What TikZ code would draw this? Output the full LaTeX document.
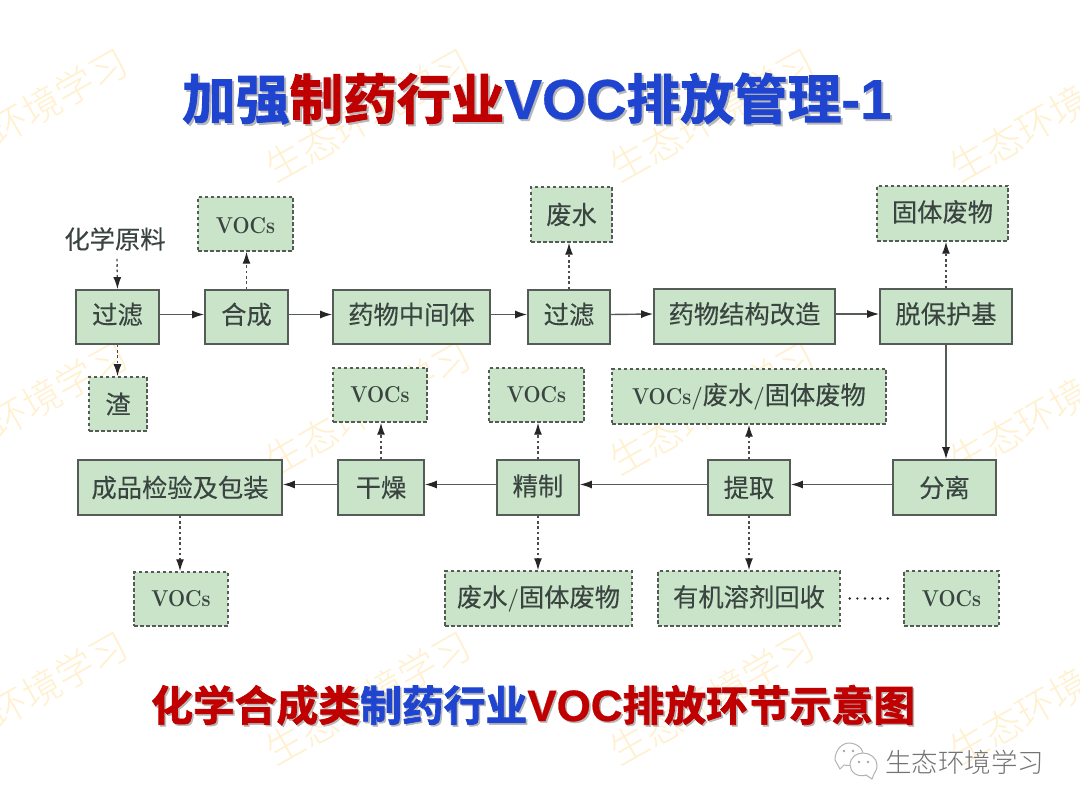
\documentclass[tikz,border=0pt]{standalone}
\usepackage{fontspec}
\usetikzlibrary{arrows.meta,calc}
\newfontfamily\cjk{Noto Sans CJK SC}
\newfontfamily\cjkthin{Noto Sans CJK SC Light}
\newfontfamily\cjkb{Noto Sans CJK SC Bold}[FakeBold=1.7]
\newfontfamily\latb{Liberation Sans Bold}[FakeBold=0.6,Scale=1.05]
\newfontfamily\cjkl{Noto Sans CJK SC}[FakeBold=0.2]
\newfontfamily\lmv{Latin Modern Roman}[FakeStretch=0.88]
\definecolor{boxgreen}{HTML}{C9E4C8}
\definecolor{boxline}{HTML}{555C58}
\definecolor{tblue}{HTML}{1F45D0}
\definecolor{tred}{HTML}{C00000}
\definecolor{wmark}{HTML}{FFF1CF}
\definecolor{txt}{HTML}{3A4440}
\newcommand{\shd}[2]{\leavevmode\rlap{\kern#1\raisebox{-#1}{\color{black!28}#2}}}
\newcommand{\lmt}[1]{{\lmv\bfseries\fontsize{23}{26}\selectfont #1}}
\tikzset{
  x=1pt,y=-1pt,
  flow/.style={draw=boxline,fill=boxgreen,line width=1.7pt,inner sep=0pt,text=txt,font=\cjkl\fontsize{25.3}{26}\selectfont},
  drop/.style={draw=boxline,fill=boxgreen,line width=1.5pt,dash pattern=on 3.5pt off 2.5pt,inner sep=0pt,text=txt,font=\cjkl\fontsize{25.3}{26}\selectfont},
  voc/.style={font=\lmv\bfseries\fontsize{23}{26}\selectfont},
  lift/.style={text height=20pt,text depth=6pt},
  liftb/.style={text height=22pt,text depth=6pt},
  go/.style={draw=boxline,line width=1.4pt,-{Latex[length=12pt,width=8pt,color=black!85]}},
  side/.style={draw=black!70,line width=1.4pt,dash pattern=on 2.5pt off 2.8pt,-{Latex[length=12pt,width=8pt,color=black!85]}},
  wm/.style={text=wmark,rotate=29.5,font=\cjkthin\fontsize{38}{38}\selectfont,inner sep=0pt},
}
\newcommand{\bx}[7]{\node[#1,minimum width=#4-#3,minimum height=#6-#5] (#2) at ({(#3+#4)/2},{(#5+#6)/2}) {#7};}
\begin{document}
\begin{tikzpicture}
\useasboundingbox (0,0) rectangle (1080,810);
\fill[white] (0,0) rectangle (1080,810);
\begin{scope}
\clip (0,0) rectangle (1080,810);
\foreach \r/\ry in {a/115,b/408,c/698}{
  \foreach \c/\cx in {1/25,2/368,3/712,4/1052}{
    \node[wm] (wm\r\c) at (\cx,\ry) {生态环境学习};
  }
}
\end{scope}
% title
\node[inner sep=0pt,anchor=base west] (title) at (182,119) {\cjkb\fontsize{53.7}{54}\selectfont
  \shd{2pt}{加强制药行业{\latb VOC}排放管理{\latb -1}}\textcolor{tblue}{加强}\textcolor{tred}{制药行业}\textcolor{tblue}{{\latb VOC}排放管理{\latb -1}}};
\node[inner sep=0pt,anchor=base west] (subtitle) at (151,721) {\cjkb\fontsize{41.8}{42}\selectfont
  \shd{1.6pt}{化学合成类制药行业{\latb VOC}排放环节示意图}\textcolor{tred}{化学合成类}\textcolor{tblue}{制药行业}\textcolor{tred}{{\latb VOC}排放环节示意图}};
% top row
\bx{flow,lift}{f1}{76}{159}{290}{344}{过滤}
\bx{flow,lift}{he}{205}{288}{290}{344}{合成}
\bx{flow,lift}{zj}{333}{490}{290}{344}{药物中间体}
\bx{flow,lift}{f2}{528}{610}{290}{344}{过滤}
\bx{flow,lift}{gz}{654}{835}{289}{344}{药物结构改造}
\bx{flow,lift}{tb}{880}{1012}{289}{344}{脱保护基}
% bottom row
\bx{flow}{cp}{78}{282}{460}{515}{成品检验及包装}
\bx{flow}{gd}{338}{424}{460}{515}{干燥}
\bx{flow,liftb}{jz}{497}{579}{460}{515}{精制}
\bx{flow}{tq}{708}{790}{460}{515}{提取}
\bx{flow}{fl}{893}{996}{460}{515}{分离}
% dashed
\bx{drop,voc,text height=19.5pt}{v1}{198}{293}{197}{251}{VOCs}
\bx{drop}{fs}{531}{612}{187}{242}{废水}
\bx{drop,liftb}{gt}{877}{1008}{186}{241}{固体废物}
\bx{drop}{zh}{89}{147}{377}{431}{渣}
\bx{drop,voc}{v2}{333}{427}{368}{422}{VOCs}
\bx{drop,voc}{v3}{489}{584}{368}{422}{VOCs}
\bx{drop}{mix}{612}{886}{369}{424}{\lmt{VOCs/}废水\lmt{/}固体废物}
\bx{drop,voc}{v4}{134}{228}{572}{626}{VOCs}
\bx{drop,liftb}{fg}{445}{632}{571}{626}{废水\lmt{/}固体废物}
\bx{drop,liftb}{yj}{658}{840}{571}{626}{有机溶剂回收}
\bx{drop,voc}{v5}{904}{999}{571}{626}{VOCs}
\node[text=txt,font=\cjkl\fontsize{25.3}{26}\selectfont,inner sep=0pt] (raw) at (115,239) {化学原料};
% solid
\draw[go] ([yshift=2.5pt]f1.east) -- ([yshift=2.5pt]he.west);
\draw[go] ([yshift=2.5pt]he.east) -- ([yshift=2.5pt]zj.west);
\draw[go] ([yshift=2.5pt]zj.east) -- ([yshift=2.5pt]f2.west);
\draw[go] ([yshift=2.5pt]f2.east) -- ([yshift=2.5pt]gz.west);
\draw[go] ([yshift=2.5pt]gz.east) -- ([yshift=2.5pt]tb.west);
\draw[go] (tb.south) -- (tb.south |- fl.north);
\draw[go] ([yshift=3pt]fl.west) -- ([yshift=3pt]tq.east);
\draw[go] ([yshift=3pt]tq.west) -- ([yshift=3pt]jz.east);
\draw[go] ([yshift=3pt]jz.west) -- ([yshift=3pt]gd.east);
\draw[go] ([yshift=3pt]gd.west) -- ([yshift=3pt]cp.east);
% dotted
\draw[side] ($(raw.south)+(2,8)$) -- (f1.north);
\draw[side] (he.north) -- (he.north |- v1.south);
\draw[side] (f1.south) -- (f1.south |- zh.north);
\draw[side] (f2.north) -- (f2.north |- fs.south);
\draw[side] (tb.north) -- (tb.north |- gt.south);
\draw[side] (gd.north) -- (gd.north |- v2.south);
\draw[side] (jz.north) -- (jz.north |- v3.south);
\draw[side] (tq.north) -- (tq.north |- mix.south);
\draw[side] (cp.south) -- (cp.south |- v4.north);
\draw[side] (jz.south) -- (jz.south |- fg.north);
\draw[side] (tq.south) -- (tq.south |- yj.north);
\draw[draw=black!85,line width=2.7pt,line cap=round,dash pattern=on 0pt off 7.6pt] ($(yj.east)+(9,0)$) -- ($(v5.west)+(-8,0)$);
% footer mark
\begin{scope}[draw=black!30,fill=white,line width=1pt]
\filldraw (835,760) -- (840,769) -- (844,765) .. controls (852,767) and (864,762) .. (863,755) .. controls (863,745) and (852,743) .. (849,743) .. controls (842,743) and (835,750) .. (835,760) -- cycle;
\filldraw (874,774) -- (872,779) -- (866,775) .. controls (858,778) and (850,772) .. (850,765) .. controls (850,757) and (857,753) .. (863,753) .. controls (870,753) and (877,758) .. (877,765) .. controls (877,769) and (876,771) .. (874,774) -- cycle;
\fill[black!35] (844,751) circle (1.4) (853,751) circle (1.4) (859,762) circle (1.3) (868,762) circle (1.3);
\end{scope}
\node[inner sep=0pt,anchor=west,font=\cjkthin\fontsize{26.5}{27}\selectfont,text=black!55] (mark) at (885,762) {生态环境学习};
\end{tikzpicture}
\end{document}
